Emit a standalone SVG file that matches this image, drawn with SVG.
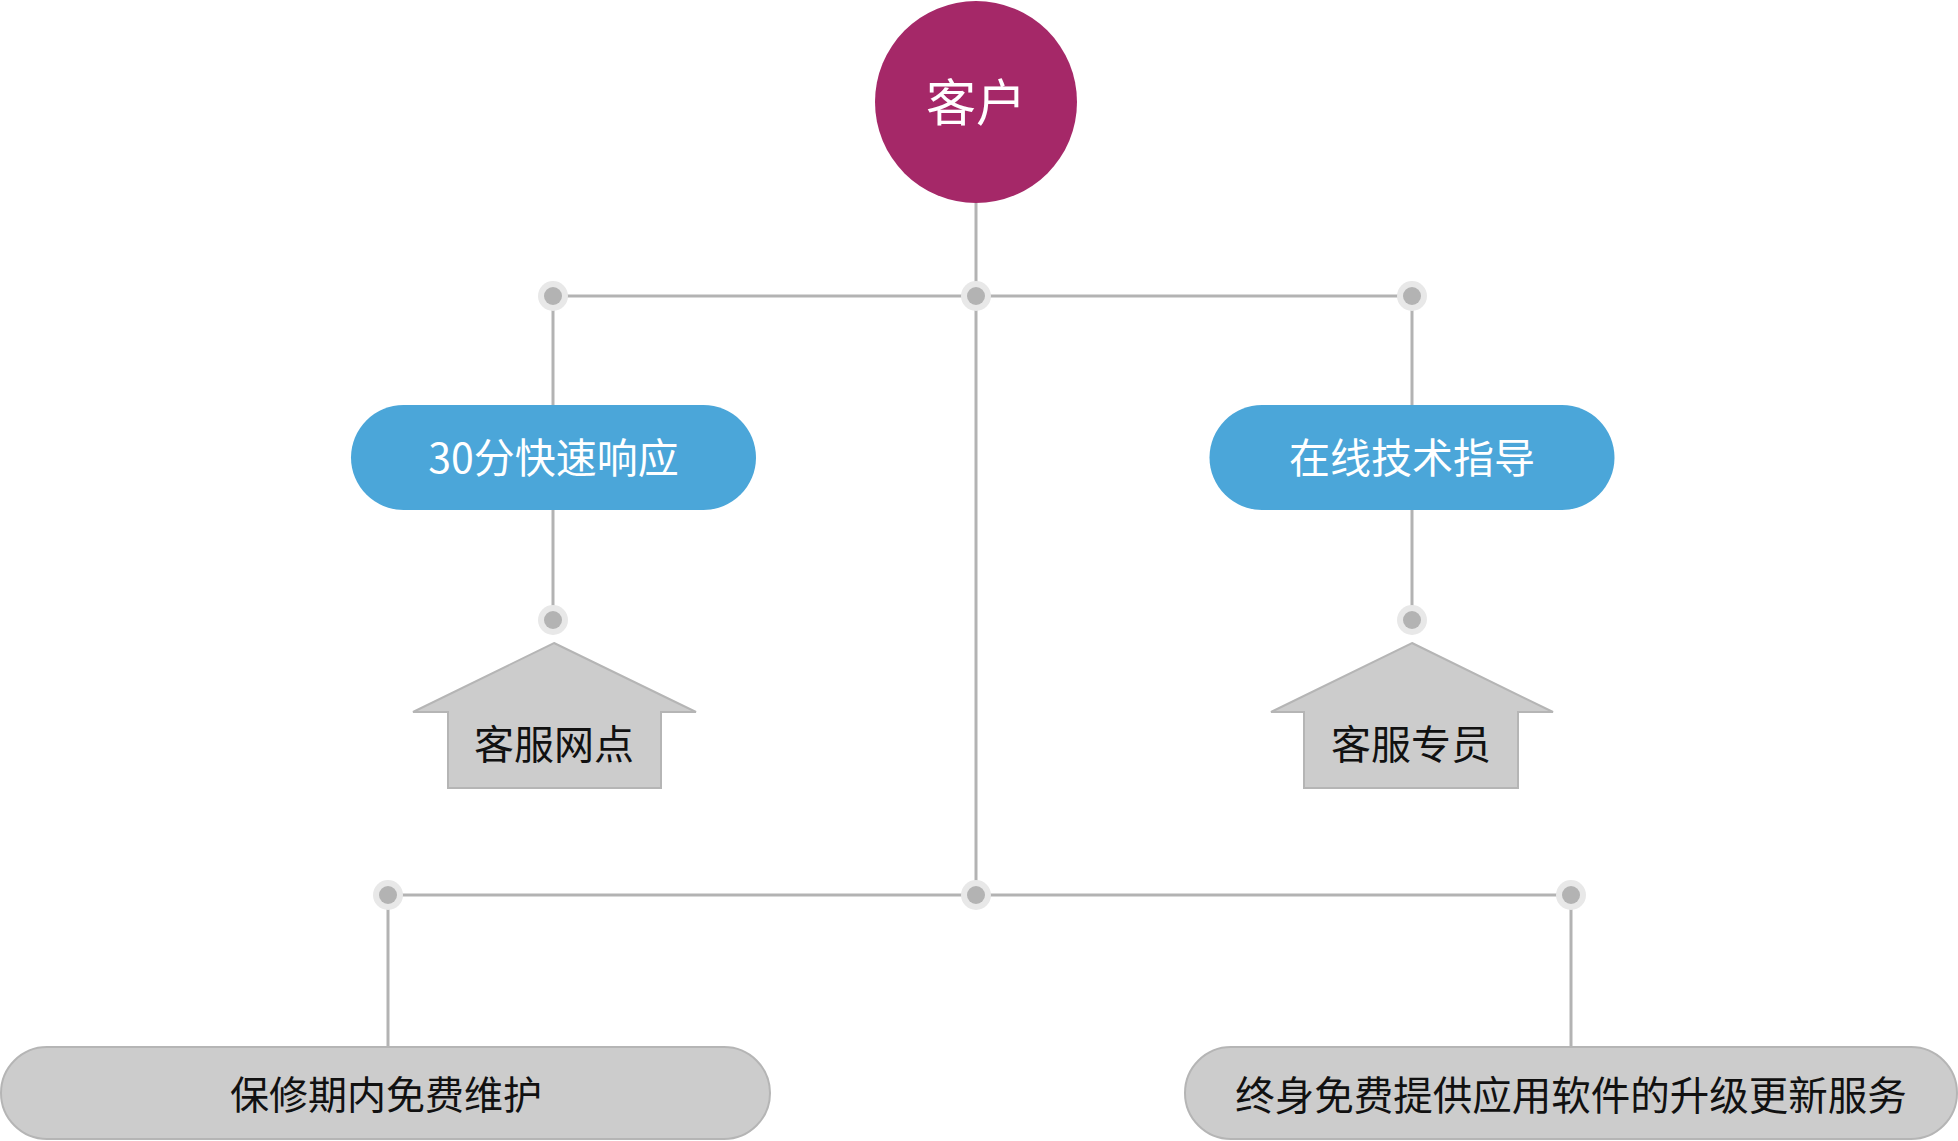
<svg xmlns="http://www.w3.org/2000/svg" width="1958" height="1141" viewBox="0 0 1958 1141">
<style>
.ln{stroke:#b3b3b3;stroke-width:3;fill:none}
.dot-o{fill:#e8e8e8}
.dot-i{fill:#b3b3b3}
.blue{fill:#4ba6d9}
.gray{fill:#cccccc;stroke:#b5b5b5;stroke-width:2}
.t{font-family:"Noto Sans CJK SC","Liberation Sans",sans-serif;text-anchor:middle;dominant-baseline:central}
.tw{fill:#ffffff}
.tb{fill:#111111}
</style>
<defs>
<g id="dot"><circle r="15" class="dot-o"/><circle r="9" class="dot-i"/></g>
</defs>
<rect width="1958" height="1141" fill="#ffffff"/>
<g id="connectors">
<line class="ln" x1="976" y1="203" x2="976" y2="895"/>
<line class="ln" x1="553" y1="296" x2="1412" y2="296"/>
<line class="ln" x1="553" y1="296" x2="553" y2="405"/>
<line class="ln" x1="553" y1="510" x2="553" y2="620"/>
<line class="ln" x1="1412" y1="296" x2="1412" y2="405"/>
<line class="ln" x1="1412" y1="510" x2="1412" y2="620"/>
<line class="ln" x1="388" y1="895" x2="1571" y2="895"/>
<line class="ln" x1="388" y1="895" x2="388" y2="1047"/>
<line class="ln" x1="1571" y1="895" x2="1571" y2="1047"/>
<use href="#dot" x="553" y="296"/>
<use href="#dot" x="976" y="296"/>
<use href="#dot" x="1412" y="296"/>
<use href="#dot" x="553" y="620"/>
<use href="#dot" x="1412" y="620"/>
<use href="#dot" x="388" y="895"/>
<use href="#dot" x="976" y="895"/>
<use href="#dot" x="1571" y="895"/>
</g>
<g id="customer">
<circle cx="976" cy="102" r="101" fill="#a52868"/>
<text class="t tw" x="976" y="99" font-size="50">客户</text>
</g>
<g id="fast-response">
<rect class="blue" x="351" y="405" width="405" height="105" rx="52.5"/>
<text class="t tw" x="553.5" y="455" font-size="41">30分快速响应</text>
</g>
<g id="online-support">
<rect class="blue" x="1209.5" y="405" width="405" height="105" rx="52.5"/>
<text class="t tw" x="1412" y="455" font-size="41">在线技术指导</text>
</g>
<g id="service-outlet">
<polygon class="gray" points="554,643 696,712 661,712 661,788 448,788 448,712 413,712"/>
<text class="t tb" x="554" y="742" font-size="40">客服网点</text>
</g>
<g id="service-staff">
<polygon class="gray" points="1412,643 1553,712 1518,712 1518,788 1304,788 1304,712 1271,712"/>
<text class="t tb" x="1411" y="742" font-size="40">客服专员</text>
</g>
<g id="warranty">
<rect class="gray" x="1" y="1047" width="769" height="92" rx="46"/>
<text class="t tb" x="386" y="1092" font-size="39">保修期内免费维护</text>
</g>
<g id="lifetime-upgrade">
<rect class="gray" x="1185" y="1047" width="772" height="92" rx="46"/>
<text class="t tb" x="1571" y="1092" font-size="39.5">终身免费提供应用软件的升级更新服务</text>
</g>
</svg>
